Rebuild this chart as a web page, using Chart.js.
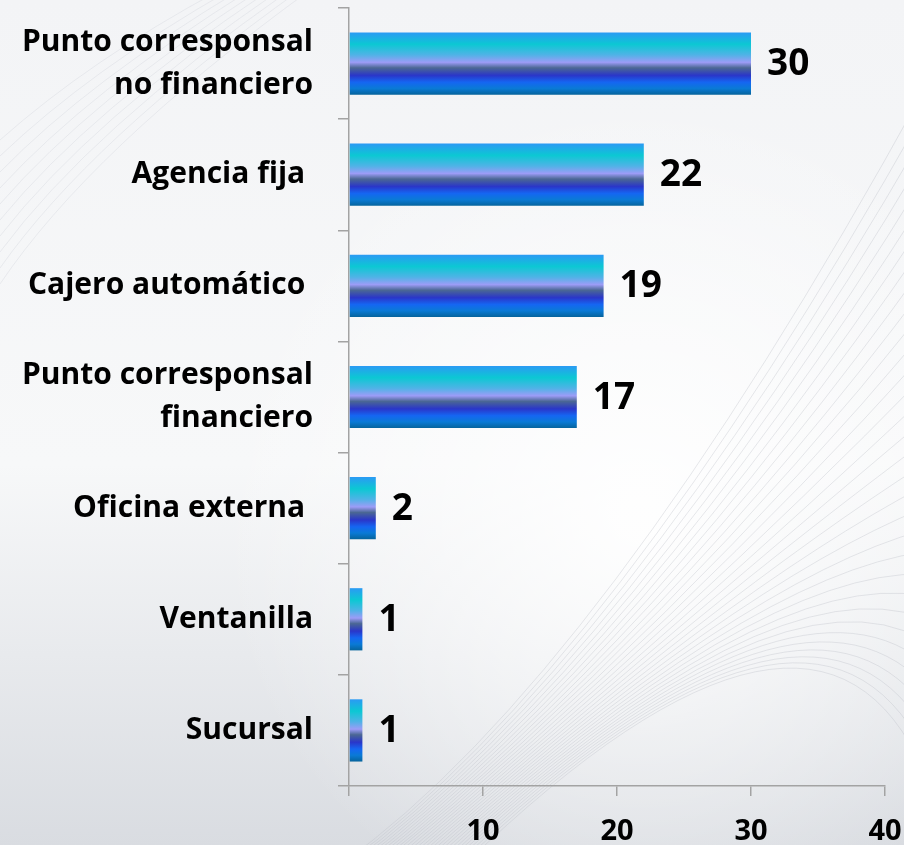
<!DOCTYPE html>
<html>
<head>
<meta charset="utf-8">
<script src="https://cdn.jsdelivr.net/npm/chart.js@4.4.1/dist/chart.umd.min.js"></script>
<style>
  html, body { margin: 0; padding: 0; background: #eceef1; }
  #wrap { width: 904px; height: 845px; position: relative; }
</style>
</head>
<body>
<div id="wrap"><canvas id="canales-chart"></canvas></div>
<script>
// Puntos de atención por tipo de canal
const categories = [
    ['Punto corresponsal', 'no financiero'],
    'Agencia fija ',
    'Cajero automático ',
    ['Punto corresponsal', 'financiero'],
    'Oficina externa ',
    'Ventanilla',
    'Sucursal'
];
const counts = [30, 22, 19, 17, 2, 1, 1];
const xTicks = [0, 10, 20, 30, 40];

const FONT = '"Open Sans", Lato, sans-serif';
const AXIS_GRAY = '#a3a3a3';
const BAR_SHARE = 0.56;

// striped blue/cyan fill running across the thickness of each bar
function barGradient(context) {
    const chart = context.chart;
    const area = chart.chartArea;
    const yScale = chart.scales.y;
    if (!area || !yScale || context.dataIndex === undefined) return '#2a9cf5';
    const half = (yScale.height / categories.length) * BAR_SHARE / 2;
    const mid = yScale.getPixelForValue(context.dataIndex);
    const g = chart.ctx.createLinearGradient(0, mid - half, 0, mid + half);
    g.addColorStop(0.00, '#2b9af4');
    g.addColorStop(0.19, '#0cc8d3');
    g.addColorStop(0.36, '#4fb3e6');
    g.addColorStop(0.48, '#9c9cf7');
    g.addColorStop(0.57, '#4b6794');
    g.addColorStop(0.69, '#2a36c9');
    g.addColorStop(0.80, '#1566f2');
    g.addColorStop(0.90, '#0a7ad6');
    g.addColorStop(1.00, '#06649c');
    return g;
}

// soft grey backdrop with the sweeping line pattern
const backdrop = {
    id: 'backdrop',
    beforeDraw(chart) {
        const { ctx, width, height } = chart;
        ctx.save();
        const bg = ctx.createLinearGradient(0, 0, 0, height);
        bg.addColorStop(0, '#f3f4f6');
        bg.addColorStop(0.55, '#f7f8f9');
        bg.addColorStop(1, '#d9dce1');
        ctx.fillStyle = bg;
        ctx.fillRect(0, 0, width, height);

        const glow = ctx.createRadialGradient(640, 520, 20, 640, 520, 420);
        glow.addColorStop(0, 'rgba(255,255,255,0.9)');
        glow.addColorStop(1, 'rgba(255,255,255,0)');
        ctx.fillStyle = glow;
        ctx.fillRect(0, 0, width, height);

        ctx.lineWidth = 1;
        ctx.strokeStyle = 'rgba(185,190,198,0.35)';
        for (let i = 0; i < 32; i++) {
            ctx.beginPath();
            ctx.moveTo(340 + i * 4, height + 20);
            ctx.quadraticCurveTo(600 + i * 7, 680 - i * 5, width + 20, 90 + i * 22);
            ctx.stroke();
        }
        ctx.strokeStyle = 'rgba(215,218,224,0.45)';
        for (let i = 0; i < 10; i++) {
            ctx.beginPath();
            ctx.moveTo(0, 140 + i * 16);
            ctx.quadraticCurveTo(90, 60 + i * 10, 220 + i * 10, -10);
            ctx.stroke();
        }
        ctx.restore();
    }
};

// value printed just past the end of each bar
const valueLabels = {
    id: 'valueLabels',
    afterDatasetsDraw(chart) {
        const { ctx } = chart;
        const meta = chart.getDatasetMeta(0);
        ctx.save();
        ctx.font = 'bold 37px ' + FONT;
        ctx.fillStyle = '#000';
        ctx.textAlign = 'left';
        ctx.textBaseline = 'middle';
        meta.data.forEach((bar, i) => {
            ctx.fillText(String(counts[i]), bar.x + 16, bar.y + 1);
        });
        ctx.restore();
    }
};

const canalesCtx = document.getElementById('canales-chart').getContext('2d');
const canalesChart = new Chart(canalesCtx, {
    type: 'bar',
    data: {
        labels: categories,
        datasets: [{
            label: 'Puntos de atención',
            data: counts,
            backgroundColor: barGradient,
            borderWidth: 0,
            categoryPercentage: 1,
            barPercentage: BAR_SHARE
        }]
    },
    options: {
        indexAxis: 'y',
        responsive: true,
        maintainAspectRatio: false,
        animation: false,
        layout: { padding: { top: 8, right: 19, left: 0, bottom: 0 } },
        plugins: {
            legend: { display: false },
            tooltip: { enabled: false }
        },
        scales: {
            x: {
                min: 0,
                max: 40,
                afterBuildTicks: (scale) => { scale.ticks = xTicks.map(v => ({ value: v })); },
                afterFit: (scale) => {
                    scale.height = 59;
                    scale.paddingLeft = 0;
                    scale.paddingRight = 0;
                },
                ticks: {
                    callback: (v) => (v === 0 ? '' : v),
                    color: '#000',
                    padding: 18,
                    maxRotation: 0,
                    font: { family: FONT, size: 29, weight: 'bold' }
                },
                grid: {
                    drawOnChartArea: false,
                    drawTicks: true,
                    tickLength: 10,
                    color: AXIS_GRAY,
                    lineWidth: 1.5
                },
                border: { color: AXIS_GRAY, width: 1.5 }
            },
            y: {
                afterFit: (scale) => {
                    scale.width = 349;
                    scale.paddingTop = 0;
                    scale.paddingBottom = 0;
                },
                ticks: {
                    color: '#000',
                    padding: 25,
                    font: { family: FONT, size: 30, weight: 'bold', lineHeight: 1.43 }
                },
                grid: {
                    offset: true,
                    drawOnChartArea: false,
                    drawTicks: true,
                    tickLength: 11,
                    color: AXIS_GRAY,
                    lineWidth: 1.5
                },
                border: { color: AXIS_GRAY, width: 1.5 }
            }
        }
    },
    plugins: [backdrop, valueLabels]
});
</script>
</body>
</html>
